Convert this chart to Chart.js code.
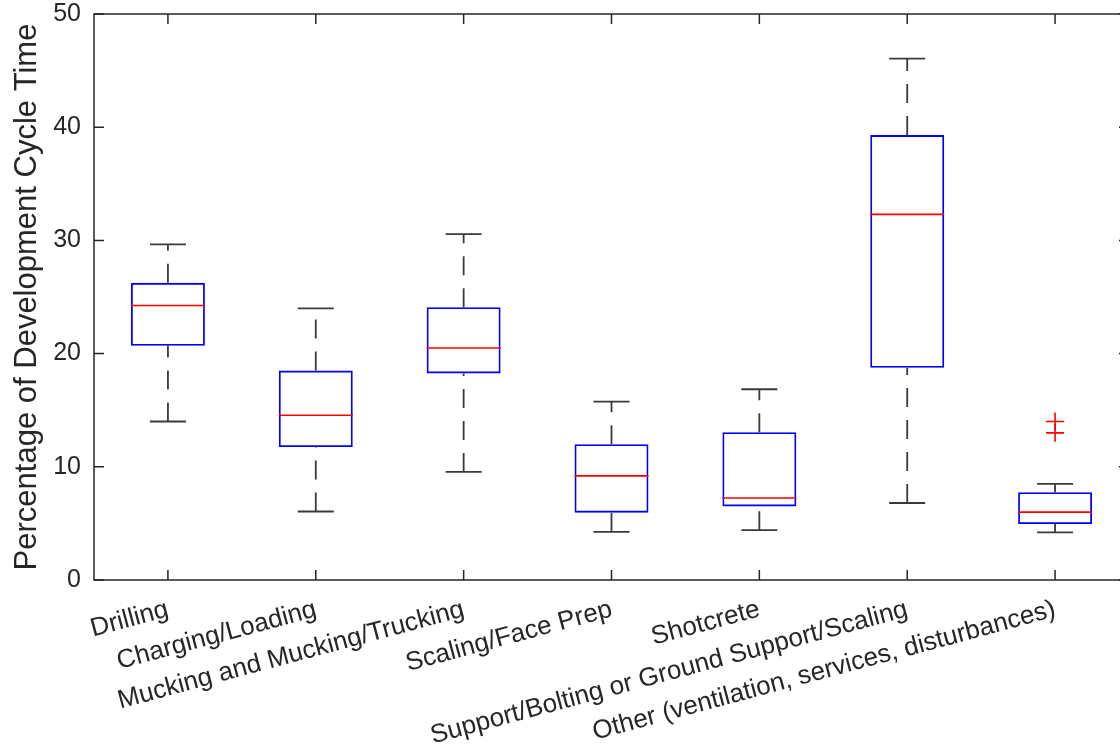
<!DOCTYPE html>
<html>
<head>
<meta charset="utf-8">
<title>Development cycle time boxplot</title>
<script src="https://cdn.jsdelivr.net/npm/chart.js@4"></script>
<style>
  html, body { margin: 0; padding: 0; background: #fff; overflow: hidden; }
  #wrap { width: 1140px; height: 755px; }
</style>
</head>
<body>
<div id="wrap"><canvas id="boxChart" width="1140" height="755"></canvas></div>
<script>
// ---------- Data ---------- //
const categories = [
  'Drilling',
  'Charging/Loading',
  'Mucking and Mucking/Trucking',
  'Scaling/Face Prep',
  'Shotcrete',
  'Support/Bolting or Ground Support/Scaling',
  'Other (ventilation, services, disturbances)'
];
const whiskerLow  = [14.0, 6.05, 9.55, 4.25, 4.4, 6.8, 4.2];
const boxLow      = [20.7, 11.75, 18.25, 5.95, 6.5, 18.75, 4.95];
const medians     = [24.25, 14.55, 20.5, 9.2, 7.25, 32.3, 6.0];
const boxHigh     = [26.25, 18.5, 24.1, 12.0, 13.05, 39.3, 7.75];
const whiskerHigh = [29.65, 24.0, 30.55, 15.75, 16.85, 46.05, 8.5];
const outlierIndex  = [6, 6];
const outlierValues = [13.0, 14.0];
const yTicks = [0, 10, 20, 30, 40, 50];

const AXIS = '#262626';
const WHISKER = '#3a3a3a';
const FONT = 'Liberation Sans, Arial, Helvetica, sans-serif';

// whisker segments, drawn bottom-to-top like MATLAB does
const whiskerPoints = [];
categories.forEach((c, i) => {
  whiskerPoints.push({ x: c, y: whiskerLow[i] }, { x: c, y: boxLow[i] }, { x: c, y: null });
  whiskerPoints.push({ x: c, y: boxHigh[i] }, { x: c, y: whiskerHigh[i] }, { x: c, y: null });
});
const capPoints = categories.flatMap((c, i) => [
  { x: c, y: whiskerLow[i] }, { x: c, y: whiskerHigh[i] }
]);
const medianPoints = categories.map((c, i) => ({ x: c, y: medians[i] }));
const outlierPoints = outlierValues.map((v, k) => ({ x: categories[outlierIndex[k]], y: v }));

// keep the plot box fixed like the original figure
function pinScale(scale, prop, size) {
  scale[prop] = size;
  scale.paddingLeft = scale.paddingRight = scale.paddingTop = scale.paddingBottom = 0;
}

// MATLAB-style frame with inward ticks on all four sides
const frameTicks = {
  id: 'frameTicks',
  afterDraw(chart) {
    const { ctx, chartArea: a, scales } = chart;
    const len = 10;
    ctx.save();
    ctx.strokeStyle = AXIS;
    ctx.lineWidth = 1.5;
    ctx.strokeRect(a.left, a.top, a.right - a.left, a.bottom - a.top);
    ctx.beginPath();
    categories.forEach((c, i) => {
      const x = scales.x.getPixelForTick(i);
      ctx.moveTo(x, a.bottom); ctx.lineTo(x, a.bottom - len);
      ctx.moveTo(x, a.top); ctx.lineTo(x, a.top + len);
    });
    yTicks.forEach(v => {
      const y = scales.y.getPixelForValue(v);
      ctx.moveTo(a.left, y); ctx.lineTo(a.left + len, y);
      ctx.moveTo(a.right, y); ctx.lineTo(a.right - len, y);
    });
    ctx.stroke();
    ctx.restore();
  }
};

new Chart(document.getElementById('boxChart'), {
  type: 'bar',
  data: {
    labels: categories,
    datasets: [
      {
        type: 'line',
        data: medianPoints,
        showLine: false,
        pointStyle: 'line',
        pointRadius: 37,
        pointBorderColor: '#ff0000',
        pointBorderWidth: 1.6,
        order: 0
      },
      {
        type: 'line',
        data: outlierPoints,
        showLine: false,
        pointStyle: 'cross',
        pointRadius: 9,
        pointBorderColor: '#ff0000',
        pointBorderWidth: 1.6,
        order: 0
      },
      {
        type: 'bar',
        data: categories.map((c, i) => [boxLow[i], boxHigh[i]]),
        backgroundColor: 'rgba(0,0,0,0)',
        borderColor: '#0000ff',
        borderWidth: 1.8,
        borderSkipped: false,
        barPercentage: 0.5,
        categoryPercentage: 1,
        order: 1
      },
      {
        type: 'line',
        data: whiskerPoints,
        borderColor: WHISKER,
        borderWidth: 1.8,
        borderDash: [19, 13],
        pointRadius: 0,
        spanGaps: false,
        order: 2
      },
      {
        type: 'line',
        data: capPoints,
        showLine: false,
        pointStyle: 'line',
        pointRadius: 18,
        pointBorderColor: WHISKER,
        pointBorderWidth: 1.8,
        order: 2
      }
    ]
  },
  options: {
    responsive: false,
    animation: false,
    events: [],
    layout: { autoPadding: false, padding: { left: 0, top: 14, right: 11, bottom: 0 } },
    plugins: { legend: { display: false }, tooltip: { enabled: false } },
    scales: {
      x: {
        type: 'category',
        offset: true,
        grid: { display: false, drawTicks: false },
        border: { display: false },
        ticks: {
          color: AXIS,
          font: { family: FONT, size: 26 },
          minRotation: 15,
          maxRotation: 15,
          autoSkip: false,
          padding: 14
        },
        afterFit: (scale) => pinScale(scale, 'height', 175)
      },
      y: {
        min: 0,
        max: 50,
        grid: { display: false, drawTicks: false },
        border: { display: false },
        ticks: {
          stepSize: 10,
          color: AXIS,
          font: { family: FONT, size: 25 },
          padding: 13
        },
        title: {
          display: true,
          text: 'Percentage of Development Cycle Time',
          color: AXIS,
          font: { family: FONT, size: 31 },
          padding: { top: 9, bottom: 0 }
        },
        afterFit: (scale) => pinScale(scale, 'width', 94)
      }
    }
  },
  plugins: [frameTicks]
});
</script>
</body>
</html>
